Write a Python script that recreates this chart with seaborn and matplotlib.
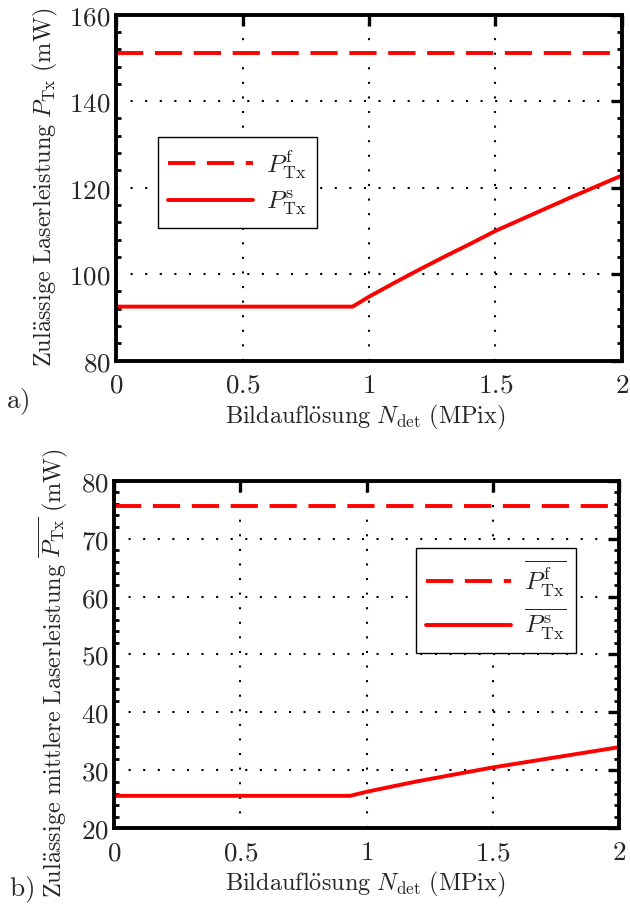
import numpy as np
import pandas as pd
import matplotlib
matplotlib.use("Agg")
import matplotlib.pyplot as plt
import seaborn as sns
from matplotlib.ticker import AutoMinorLocator, FixedLocator, FuncFormatter

# Resolution (MPix) and admissible laser power (mW)
n_flat = [0.0, 2.0]
p_fast = [151.1, 151.1]
p_fast_mean = [75.6, 75.6]

n_slow = [0.0, 0.935, 1.0, 1.1, 1.2, 1.3, 1.4, 1.5, 1.6, 1.7, 1.8, 1.9, 2.0]
p_slow = [92.5, 92.5, 94.8, 98.0, 101.1, 104.1, 107.0, 110.0, 112.6, 115.2, 117.8, 120.3, 122.8]
p_slow_mean = [25.6, 25.6, 26.3, 27.2, 28.1, 28.9, 29.7, 30.5, 31.2, 31.9, 32.6, 33.3, 34.0]

x_ticks = [0, 0.5, 1, 1.5, 2]
x_tick_labels = ["0", "0.5", "1", "1.5", "2"]
y_ticks_a = [80, 100, 120, 140, 160]
y_ticks_b = [20, 30, 40, 50, 60, 70, 80]

sns.set_theme(style="white")
plt.rcParams["mathtext.fontset"] = "cm"
plt.rcParams["font.family"] = ["DejaVu Serif"]

FS_TICK = 19.5
FS_LABEL = 17.5
RED = "#ff0000"
LW = 2.8

fig = plt.figure(figsize=(6.3, 9.06), dpi=100)
ax_a = fig.add_axes([0.1849, 0.6019, 0.8019, 0.3819])
ax_b = fig.add_axes([0.1814, 0.0858, 0.8011, 0.3836])


def style_axes(ax, yticks):
    ax.set_xlim(0, 2)
    ax.set_ylim(yticks[0], yticks[-1])
    ax.xaxis.set_major_locator(FixedLocator(x_ticks))
    ax.xaxis.set_major_formatter(FuncFormatter(
        lambda v, pos: "$" + x_tick_labels[x_ticks.index(v)] + "$" if v in x_ticks else ""))
    ax.yaxis.set_major_locator(FixedLocator(yticks))
    ax.yaxis.set_major_formatter(FuncFormatter(lambda v, pos: "$%d$" % round(v)))
    ax.yaxis.set_minor_locator(AutoMinorLocator(5))
    ax.tick_params(axis="both", which="major", direction="in", length=8, width=2.4,
                   top=True, right=True, labelsize=FS_TICK, color="black")
    ax.tick_params(axis="x", which="major", pad=8)
    ax.tick_params(axis="y", which="major", pad=4)
    ax.tick_params(axis="y", which="minor", direction="in", length=3.5, width=2.0,
                   left=True, right=True, color="black")
    ax.tick_params(axis="x", which="minor", bottom=False, top=False)
    for s in ax.spines.values():
        s.set_visible(True)
        s.set_linewidth(2.8)
        s.set_color("black")
    ax.grid(True, which="major", color="black", linestyle=(0, (1, 6)), linewidth=1.5)
    ax.set_axisbelow(True)
    ax.set_facecolor("white")


def draw(ax, fast, slow, lab_f, lab_s):
    sns.lineplot(x=n_flat, y=fast, ax=ax, color=RED, linewidth=LW,
                 linestyle=(0, (7, 3)), label=lab_f)
    sns.lineplot(x=n_slow, y=slow, ax=ax, color=RED, linewidth=LW,
                 linestyle="-", label=lab_s)


draw(ax_a, p_fast, p_slow, r"$P^{\mathrm{f}}_{\mathrm{Tx}}$", r"$P^{\mathrm{s}}_{\mathrm{Tx}}$")
draw(ax_b, p_fast_mean, p_slow_mean,
     r"$\overline{P^{\mathrm{f}}_{\mathrm{Tx}}}$", r"$\overline{P^{\mathrm{s}}_{\mathrm{Tx}}}$")

style_axes(ax_a, y_ticks_a)
style_axes(ax_b, y_ticks_b)

xlab = r"$\mathrm{Bildaufl\"osung}\ N_{\mathrm{det}}\ (\mathrm{MPix})$"
ax_a.set_xlabel(xlab, fontsize=FS_LABEL)
ax_b.set_xlabel(xlab, fontsize=FS_LABEL)
ax_a.set_ylabel(r"$\mathrm{Zul\"assige\ Laserleistung}\ P_{\mathrm{Tx}}\ (\mathrm{mW})$",
                fontsize=FS_LABEL)
ax_b.set_ylabel(r"$\mathrm{Zul\"assige\ mittlere\ Laserleistung}\ \overline{P_{\mathrm{Tx}}}\ (\mathrm{mW})$",
                fontsize=FS_LABEL)
ax_a.xaxis.set_label_coords(0.492, -0.122)
ax_b.xaxis.set_label_coords(0.497, -0.12)
ax_a.yaxis.set_label_coords(-0.112, 0.5)
ax_b.yaxis.set_label_coords(-0.088, 0.447)

leg_kw = dict(loc="upper left", fontsize=FS_LABEL + 1, frameon=True, fancybox=False,
              framealpha=1, edgecolor="black", handlelength=3.3, borderaxespad=0,
              borderpad=0.4, labelspacing=0.3, handletextpad=0.5)
leg_a = ax_a.legend(bbox_to_anchor=(0.082, 0.6465), **leg_kw)
leg_b = ax_b.legend(bbox_to_anchor=(0.597, 0.806), **leg_kw)
for leg in (leg_a, leg_b):
    leg.get_frame().set_linewidth(1.0)

fig.text(6 / 630, 1 - 408 / 906, r"$\mathrm{a)}$", fontsize=FS_LABEL + 2, ha="left", va="baseline")
fig.text(9 / 630, 1 - 896 / 906, r"$\mathrm{b)}$", fontsize=FS_LABEL + 2, ha="left", va="baseline")

fig.savefig("out.png", dpi=100, facecolor="white")
